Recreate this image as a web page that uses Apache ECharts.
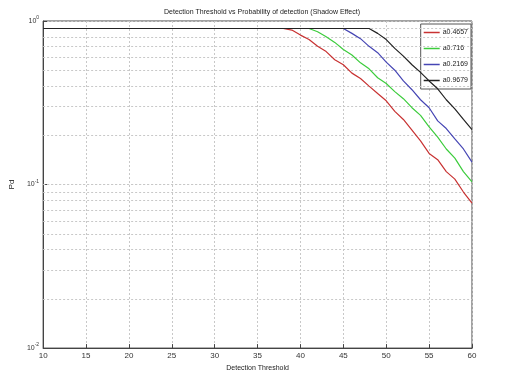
<!DOCTYPE html>
<html>
<head>
<meta charset="utf-8">
<script src="https://cdn.jsdelivr.net/npm/echarts@6/dist/echarts.min.js"></script>
<style>
  html, body { margin: 0; padding: 0; background: #fff; }
  #chart { width: 524px; height: 377px; }
</style>
</head>
<body>
<div id="chart"></div>
<script>
// detection threshold (x)
var thresholds = [10,11,12,13,14,15,16,17,18,19,20,21,22,23,24,25,26,27,28,29,30,
  31,32,33,34,35,36,37,38,39,40,41,42,43,44,45,46,47,48,49,50,51,52,53,54,55,56,57,58,59,60];

// probability of detection, one array per alpha
var pdA = [0.9,0.9,0.9,0.9,0.9,0.9,0.9,0.9,0.9,0.9,0.9,0.9,0.9,0.9,0.9,0.9,0.9,0.9,0.9,0.9,0.9,
  0.9,0.9,0.9,0.9,0.9,0.9,0.9,0.9,0.88,0.82,0.77,0.70,0.65,0.58,0.54,0.48,0.445,0.40,0.36,0.325,
  0.28,0.25,0.215,0.185,0.155,0.142,0.12,0.108,0.09,0.077];
var pdB = [0.9,0.9,0.9,0.9,0.9,0.9,0.9,0.9,0.9,0.9,0.9,0.9,0.9,0.9,0.9,0.9,0.9,0.9,0.9,0.9,0.9,
  0.9,0.9,0.9,0.9,0.9,0.9,0.9,0.9,0.9,0.9,0.9,0.86,0.80,0.74,0.67,0.62,0.555,0.51,0.45,0.415,
  0.37,0.335,0.295,0.265,0.225,0.195,0.165,0.145,0.12,0.104];
var pdC = [0.9,0.9,0.9,0.9,0.9,0.9,0.9,0.9,0.9,0.9,0.9,0.9,0.9,0.9,0.9,0.9,0.9,0.9,0.9,0.9,0.9,
  0.9,0.9,0.9,0.9,0.9,0.9,0.9,0.9,0.9,0.9,0.9,0.9,0.9,0.9,0.9,0.84,0.78,0.70,0.64,0.56,
  0.50,0.43,0.38,0.33,0.295,0.245,0.22,0.19,0.165,0.137];
var pdD = [0.9,0.9,0.9,0.9,0.9,0.9,0.9,0.9,0.9,0.9,0.9,0.9,0.9,0.9,0.9,0.9,0.9,0.9,0.9,0.9,0.9,
  0.9,0.9,0.9,0.9,0.9,0.9,0.9,0.9,0.9,0.9,0.9,0.9,0.9,0.9,0.9,0.9,0.9,0.9,0.84,0.77,
  0.68,0.61,0.54,0.485,0.43,0.385,0.33,0.29,0.25,0.217];

var names = ['a0.4657','a0.716','a0.2169','a0.9679'];
var colors = ['#c83232','#3ccc3c','#4646b4','#222222'];

// minor log grid positions
var minorGrid = [0.02,0.03,0.04,0.05,0.06,0.07,0.08,0.09,0.1,0.2,0.3,0.4,0.5,0.6,0.7,0.8,0.9];

function pairs(ys){
  return thresholds.map(function(x,i){ return [x, ys[i]]; });
}

var font = 'Liberation Sans';
var series = [pdA,pdB,pdC,pdD].map(function(d,i){
  return {
    name: names[i], type: 'line', data: pairs(d),
    showSymbol: false, symbol: 'none',
    lineStyle: { width: 1.2, color: colors[i] }, itemStyle: { color: colors[i] },
    z: 5 + i
  };
});
series.push({
  type: 'line', data: [], silent: true,
  markLine: {
    silent: true, symbol: 'none', label: { show: false },
    lineStyle: { color: '#c8c8c8', type: [2,2], width: 1 },
    data: minorGrid.map(function(v){ return { yAxis: v }; })
  }
});

var chart = echarts.init(document.getElementById('chart'));
chart.setOption({
  backgroundColor: '#fff',
  animation: false,
  title: {
    text: 'Detection Threshold vs Probability of detection (Shadow Effect)',
    left: 'center', top: 4,
    textStyle: { fontFamily: font, fontSize: 7, fontWeight: 'normal', color: '#222' }
  },
  legend: {
    data: names, orient: 'vertical', right: 53, top: 24,
    backgroundColor: '#fff', borderColor: '#555', borderWidth: 1,
    padding: [5, 3, 5, 3], itemGap: 9,
    icon: 'rect', itemWidth: 16, itemHeight: 1.5,
    textStyle: { fontFamily: font, fontSize: 7, color: '#222', padding: [0,0,0,-2] }
  },
  grid: {
    left: 43, right: 52, top: 21, bottom: 27,
    show: true, borderColor: '#444', borderWidth: 1
  },
  xAxis: {
    type: 'value', min: 10, max: 60, interval: 5,
    name: 'Detection Threshold', nameLocation: 'middle', nameGap: 14,
    nameTextStyle: { fontFamily: font, fontSize: 7, color: '#222' },
    axisLine: { lineStyle: { color: '#444' } },
    axisTick: { inside: true, length: 4, lineStyle: { color: '#444' } },
    axisLabel: { fontFamily: font, fontSize: 8, color: '#333', margin: 4 },
    splitLine: { show: true, lineStyle: { color: '#c8c8c8', type: [2,2] } }
  },
  yAxis: {
    type: 'log', logBase: 10, min: 0.01, max: 1,
    name: 'Pd', nameLocation: 'middle', nameGap: 24, nameRotate: 90,
    nameTextStyle: { fontFamily: font, fontSize: 8, color: '#222' },
    axisLine: { lineStyle: { color: '#444' } },
    axisTick: { inside: true, length: 4, lineStyle: { color: '#444' } },
    axisLabel: {
      fontFamily: font, fontSize: 7, color: '#333', margin: 4,
      formatter: function(v){
        var e = Math.round(Math.log10(v));
        return '10{s|' + e + '}';
      },
      rich: { s: { fontSize: 5, verticalAlign: 'top', padding: [0,0,6,0] } }
    },
    splitLine: { show: true, lineStyle: { color: '#c8c8c8', type: [2,2] } }
  },
  series: series
});
</script>
</body>
</html>
